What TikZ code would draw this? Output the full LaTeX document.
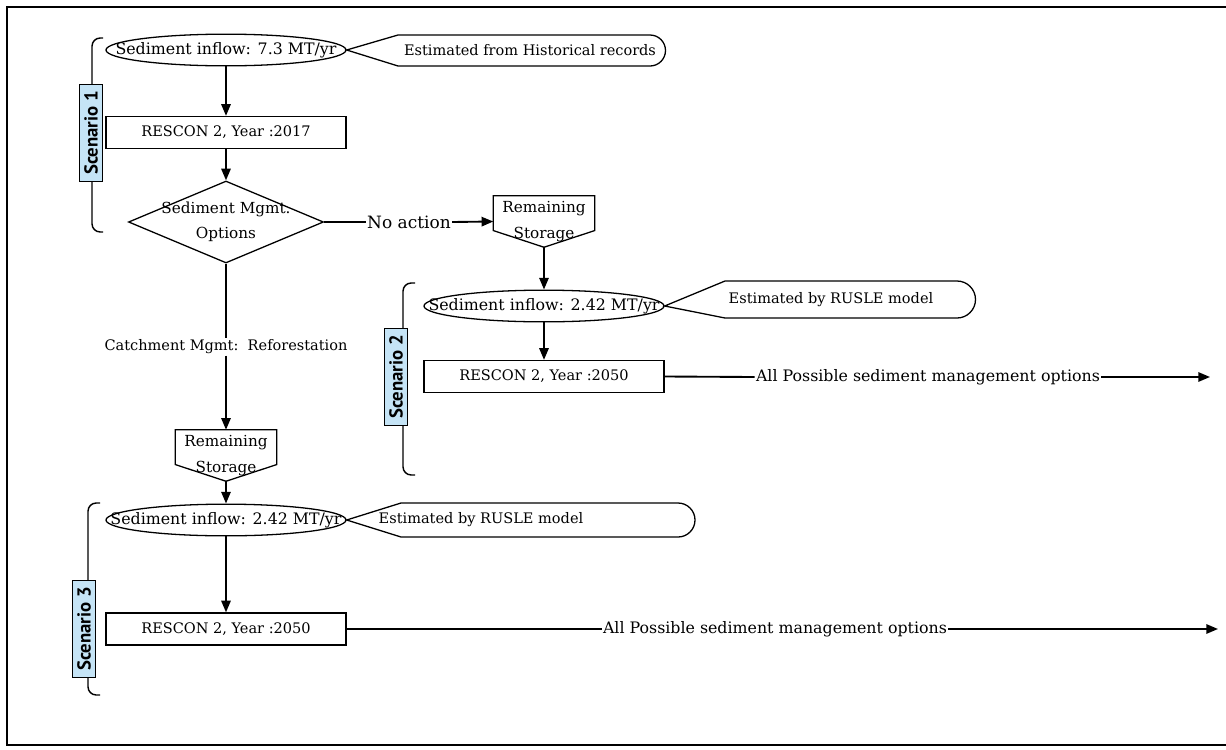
\documentclass[tikz,border=0pt]{standalone}
\usepackage{fontspec}
\setmainfont{DejaVu Serif}
\newfontfamily\scenfont{PT Sans}
\usetikzlibrary{shapes.geometric,arrows.meta}

\definecolor{scenblue}{RGB}{197,228,246}

\tikzset{
  outline/.style={draw, line width=1.1pt},
  conn/.style={line width=1.6pt, -{Triangle[length=10pt,width=8pt]}},
  plainconn/.style={line width=1.6pt},
  inflow/.style={outline, ellipse, minimum width=7.2cm, minimum height=0.95cm, inner sep=0pt},
  inflowtext/.style={font=\fontsize{13.5}{16}\selectfont},
  rescon/.style={outline, rectangle, minimum width=7.2cm, minimum height=0.96cm},
  decision/.style={outline, diamond, minimum width=5.85cm, minimum height=2.46cm, inner sep=0pt},
  decisiontext/.style={align=center, font=\fontsize{13}{21}\selectfont},
  storebox/.style={minimum width=3.03cm, minimum height=1.53cm, inner sep=0pt, align=center,
    font=\fontsize{13}{22}\selectfont},
  scenlabel/.style={outline, fill=scenblue, rotate=90, minimum width=2.9cm, minimum height=0.7cm, inner sep=0pt,
    font=\scenfont\bfseries\fontsize{16}{18}\selectfont},
  brace/.style={line width=1.2pt, rounded corners=7pt},
  edgetext/.style={inner sep=1pt}
}

\begin{document}
\begin{tikzpicture}[x=0.03cm, y=-0.03cm, font=\fontsize{12.4}{20}\selectfont]
  \useasboundingbox (0,0) rectangle (1226,749);
  \draw[line width=1.2pt] (7,7) rectangle (1240,745);

  % scenario 1
  \draw[brace] (103,38) -- (92,38) -- (92,232) -- (103,232);
  \node[scenlabel] (scenA) at (91,133) {Scenario 1};
  \node[inflow, label={[inflowtext]center:Sediment inflow: 7.3 MT/yr}] (inflowA) at (226,50) {};
  \node (estA) at (530,50.5) {Estimated from Historical records};
  \draw[outline] (inflowA.east) -- (398,35) -- (650,35) arc[start angle=-90, end angle=90, radius=15.5] -- (398,66) -- cycle;
  \node[rescon] (resconA) at (226,132.5) {RESCON 2, Year :2017};
  \node[decision, label={[decisiontext]center:Sediment Mgmt.\\Options}] (mgmt) at (226,222) {};
  \node[edgetext, font=\fontsize{14.5}{16}\selectfont] (noact) at (409,222) {No action};
  \node[storebox] (storeA) at (544,221.5) {Remaining\\Storage};
  \draw[outline] (storeA.north west) -- (storeA.north east) -- ([yshift=0.5cm]storeA.south east)
    -- (storeA.south) -- ([yshift=0.5cm]storeA.south west) -- cycle;

  % scenario 2
  \draw[brace] (415,283) -- (403,283) -- (403,475) -- (415,475);
  \node[scenlabel] (scenB) at (396,377) {Scenario 2};
  \node[inflow, label={[inflowtext]center:Sediment inflow: 2.42 MT/yr}] (inflowB) at (544,306) {};
  \node (estB) at (831,300) {Estimated by RUSLE model};
  \draw[outline] (inflowB.east) -- (725,281) -- (957,281) arc[start angle=-90, end angle=90, radius=18.5] -- (725,318) -- cycle;
  \node[rescon] (resconB) at (544,376.5) {RESCON 2, Year :2050};
  \node[edgetext, font=\fontsize{13.5}{16}\selectfont] (allB) at (928,377) {All Possible sediment management options};
  \coordinate (endB) at (1210,377);

  % catchment branch
  \node[edgetext] (catch) at (226,347) {Catchment Mgmt:~~Reforestation};
  \node[storebox] (storeB) at (226,455.5) {Remaining\\Storage};
  \draw[outline] (storeB.north west) -- (storeB.north east) -- ([yshift=0.5cm]storeB.south east)
    -- (storeB.south) -- ([yshift=0.5cm]storeB.south west) -- cycle;

  % scenario 3
  \draw[brace] (100,503) -- (88,503) -- (88,695) -- (100,695);
  \node[scenlabel] (scenC) at (84,629) {Scenario 3};
  \node[inflow, label={[inflowtext]center:Sediment inflow: 2.42 MT/yr}] (inflowC) at (226,520) {};
  \node (estC) at (481,520) {Estimated by RUSLE model};
  \draw[outline] (inflowC.east) -- (401,503) -- (678,503) arc[start angle=-90, end angle=90, radius=17] -- (401,537) -- cycle;
  \node[rescon] (resconC) at (226,629) {RESCON 2, Year :2050};
  \node[edgetext, font=\fontsize{13.5}{16}\selectfont] (allC) at (775,629) {All Possible sediment management options};
  \coordinate (endC) at (1218,629);

  % connectors
  \draw[conn] (inflowA) -- (resconA);
  \draw[conn] (resconA) -- (mgmt);
  \draw[plainconn] (mgmt.east) -- (noact.west);
  \draw[conn] (noact.east) -- (storeA.west);
  \draw[conn] (storeA.south) -- (inflowB.north);
  \draw[conn] (inflowB) -- (resconB);
  \draw[plainconn] (resconB.east) -- (allB.west);
  \draw[conn] (allB.east) -- (endB);
  \draw[plainconn] (mgmt.south) -- (catch.north);
  \draw[conn] (catch.south) -- (storeB.north);
  \draw[conn] (storeB.south) -- (inflowC.north);
  \draw[conn] (inflowC) -- (resconC);
  \draw[plainconn] (resconC.east) -- (allC.west);
  \draw[conn] (allC.east) -- (endC);
\end{tikzpicture}
\end{document}
